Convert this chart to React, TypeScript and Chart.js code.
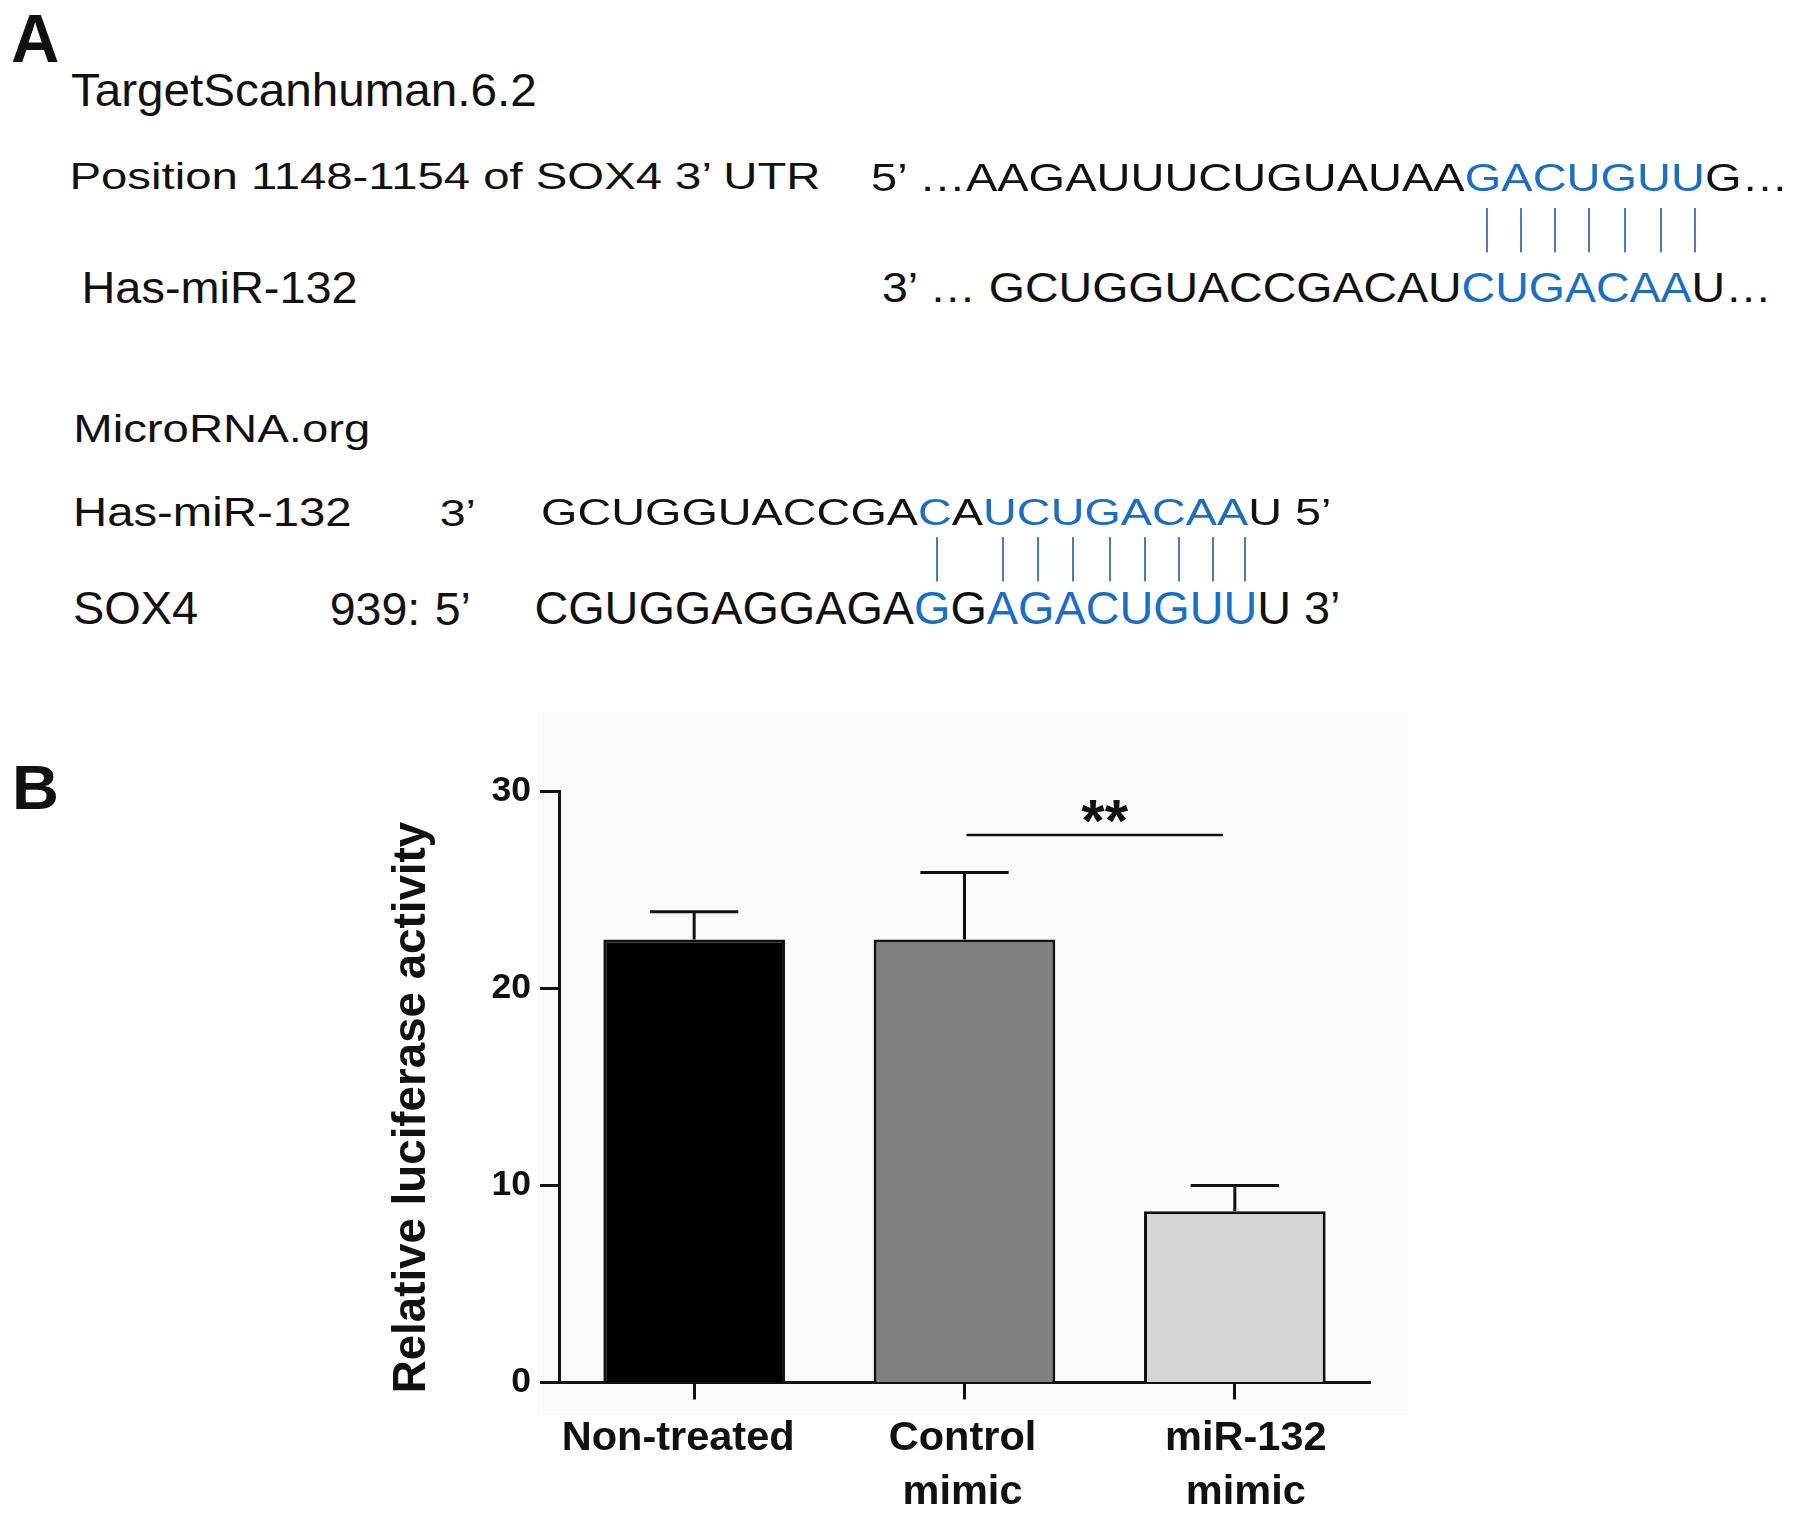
import React, { useEffect, useRef } from "react";
import { Chart, registerables } from "chart.js";

Chart.register(...registerables);

// ---------------- Data (panel B) ----------------
const categories: string[][] = [["Non-treated"], ["Control", "mimic"], ["miR-132", "mimic"]];
const means: number[] = [22.5, 22.5, 8.7];
const errors: number[] = [1.4, 3.4, 1.3];
const barColors: string[] = ["#000000", "#808080", "#d4d4d4"];
const yTickValues: number[] = [0, 10, 20, 30];
const yTitle = "Relative luciferase activity";
const sigPair: number[] = [1, 2];
const sigLevel = 27.8;
const sigLabel = "**";

// ---------------- Text (panel A) ----------------
type Seg = { t: string; c: "k" | "b" | "p" };
const tsHeader = "TargetScanhuman.6.2";
const tsSite = "Position 1148-1154 of SOX4 3’ UTR";
const tsUtr: Seg[] = [
  { t: "5’ …AAGAUUUCUGUAUAA", c: "k" },
  { t: "GACUGUU", c: "p" },
  { t: "G…", c: "k" },
];
const tsMirLabel = "Has-miR-132";
const tsMir: Seg[] = [
  { t: "3’ … GCUGGUACCGACAU", c: "k" },
  { t: "CUGACAA", c: "b" },
  { t: "U…", c: "k" },
];
const mrHeader = "MicroRNA.org";
const mrMirLabel = "Has-miR-132";
const mrMirEnd = "3’";
const mrMir: Seg[] = [
  { t: "GCUGGUACCGA", c: "k" },
  { t: "C", c: "p" },
  { t: "A", c: "k" },
  { t: "UCUGACAA", c: "p" },
  { t: "U 5’", c: "k" },
];
const mrSoxLabel = "SOX4";
const mrSoxPos = "939:";
const mrSoxEnd = "5’";
const mrSox: Seg[] = [
  { t: "CGUGGAGGAGA", c: "k" },
  { t: "G", c: "b" },
  { t: "G", c: "k" },
  { t: "AGACUGUU", c: "b" },
  { t: "U 3’", c: "k" },
];

// ---------------- Styles ----------------
const FONT = '"Liberation Sans", Arial, Helvetica, sans-serif';
const INK = "#111111";
const BLUE = "#1b6ec2";
const PAIR = "#5078bb";
const labelNudge = [-16, -2, 11];

type TxtProps = {
  x: number;
  base: number;
  fx: number;
  cap: number;
  bold?: boolean;
  children: React.ReactNode;
};

function Txt({ x, base, fx, cap, bold, children }: TxtProps) {
  const sy = cap / (0.716 * fx);
  const asc = 0.8465 * fx;
  return (
    <div
      style={{
        position: "absolute",
        left: x,
        top: base - asc,
        fontSize: fx,
        lineHeight: `${fx}px`,
        fontFamily: FONT,
        fontWeight: bold ? 700 : 400,
        whiteSpace: "pre",
        color: INK,
        transform: `scaleY(${sy})`,
        transformOrigin: `0 ${asc}px`,
      }}
    >
      {children}
    </div>
  );
}

function SeqSegs({
  segs,
  fx,
  cap,
  base,
  lineTop,
  lineBottom,
  shift = 0,
  drift = 0,
}: {
  segs: Seg[];
  fx: number;
  cap: number;
  base: number;
  lineTop?: number;
  lineBottom?: number;
  shift?: number;
  drift?: number;
}) {
  const sy = cap / (0.716 * fx);
  let k = 0;
  return (
    <>
      {segs.map((s, i) => {
        if (s.c !== "p" || lineTop === undefined || lineBottom === undefined) {
          return (
            <span key={i} style={{ color: s.c === "k" ? INK : BLUE }}>
              {s.t}
            </span>
          );
        }
        return (
          <span key={i} style={{ color: BLUE }}>
            {Array.from(s.t).map((ch, j) => {
              const off = shift + drift * k;
              k += 1;
              return (
                <span key={j} style={{ position: "relative" }}>
                  {ch}
                  <span
                    style={{
                      position: "absolute",
                      left: "50%",
                      marginLeft: -1 + off,
                      width: 2,
                      top: 0.905 * fx + (lineTop - base) / sy,
                      height: (lineBottom - lineTop) / sy,
                      background: PAIR,
                    }}
                  />
                </span>
              );
            })}
          </span>
        );
      })}
    </>
  );
}

function BarChart() {
  const ref = useRef<HTMLCanvasElement | null>(null);
  useEffect(() => {
    if (!ref.current) return;
    const nudgeLabels = {
      id: "nudgeLabels",
      beforeDraw(chart: any) {
        const xs = chart.scales.x;
        if (!xs || !xs.getLabelItems) return;
        const items = xs.getLabelItems(chart.chartArea);
        if (!items || items.__nudged) return;
        items.forEach((it: any, i: number) => {
          const tr = it.options.translation;
          it.options.translation = [tr[0] + (labelNudge[i] || 0), tr[1]];
        });
        items.__nudged = true;
      },
    };
    const annot = {
      id: "annot",
      afterDatasetsDraw(chart: any) {
        const { ctx, scales } = chart;
        const xs = scales.x;
        const ys = scales.y;
        const meta = chart.getDatasetMeta(0);
        ctx.save();
        ctx.strokeStyle = INK;
        ctx.lineWidth = 3;
        ctx.lineCap = "butt";
        means.forEach((m, i) => {
          const bar = meta.data[i];
          const cx = bar.x;
          const y0 = ys.getPixelForValue(m);
          const y1 = ys.getPixelForValue(m + errors[i]);
          const half = bar.width * 0.243;
          ctx.beginPath();
          ctx.moveTo(cx, y0);
          ctx.lineTo(cx, y1);
          ctx.moveTo(cx - half, y1);
          ctx.lineTo(cx + half, y1);
          ctx.stroke();
        });
        // significance bracket
        const xa = xs.getPixelForValue(sigPair[0]) + 2;
        const xb = xs.getPixelForValue(sigPair[1]) - 12;
        const ly = ys.getPixelForValue(sigLevel);
        ctx.lineWidth = 2.5;
        ctx.beginPath();
        ctx.moveTo(xa, ly);
        ctx.lineTo(xb, ly);
        ctx.stroke();
        ctx.fillStyle = INK;
        ctx.font = `bold 60px ${FONT}`;
        ctx.textAlign = "center";
        ctx.textBaseline = "alphabetic";
        ctx.fillText(sigLabel, (xa + xb) / 2 + 10, ly + 6);
        ctx.restore();
      },
      afterDraw(chart: any) {
        // y-axis title, placed slightly below the axis centre as in the figure
        const { ctx, chartArea } = chart;
        const ys = chart.scales.y;
        ctx.save();
        ctx.font = `bold 45.7px ${FONT}`;
        ctx.fillStyle = INK;
        ctx.textAlign = "center";
        ctx.textBaseline = "middle";
        ctx.translate(ys.left + 32, (chartArea.top + chartArea.bottom) / 2 + 20.5);
        ctx.rotate(-Math.PI / 2);
        ctx.fillText(yTitle, 0, 0);
        ctx.restore();
      },
    };
    const chart = new Chart(ref.current, {
      type: "bar",
      data: {
        labels: categories,
        datasets: [
          {
            data: means,
            backgroundColor: barColors,
            borderColor: INK,
            borderWidth: 3,
            barPercentage: 0.672,
            categoryPercentage: 1,
          },
        ],
      },
      options: {
        responsive: false,
        animation: false,
        layout: { padding: { left: 0, top: 91.7, right: 50, bottom: 0 } },
        plugins: { legend: { display: false }, tooltip: { enabled: false } },
        scales: {
          x: {
            offset: true,
            grid: {
              display: true,
              drawOnChartArea: false,
              drawTicks: true,
              tickLength: 17,
              tickWidth: 3,
              tickColor: INK,
              offset: false,
            },
            border: { display: true, color: INK, width: 3 },
            ticks: {
              color: INK,
              font: { family: FONT, size: 41.5, weight: "bold", lineHeight: 1.31 },
              padding: 12,
              maxRotation: 0,
              autoSkip: false,
            },
            afterFit: (a: any) => {
              a.height = 135.5;
            },
          },
          y: {
            min: 0,
            max: 30,
            afterBuildTicks: (a: any) => {
              a.ticks = yTickValues.map((v) => ({ value: v }));
            },
            ticks: {
              color: INK,
              font: { family: FONT, size: 35.5, weight: "bold" },
              padding: 9,
            },
            grid: {
              drawOnChartArea: false,
              drawTicks: true,
              tickLength: 19,
              tickWidth: 3,
              tickColor: INK,
            },
            border: { display: true, color: INK, width: 3 },
            title: { display: false, text: yTitle },
            afterFit: (a: any) => {
              a.width = 179;
            },
          },
        },
      } as any,
      plugins: [nudgeLabels, annot],
    });
    return () => chart.destroy();
  }, []);
  return (
    <canvas
      ref={ref}
      width={1040}
      height={818}
      style={{ position: "absolute", left: 380, top: 700, width: 1040, height: 818 }}
    />
  );
}

export default function App() {
  return (
    <div
      style={{
        position: "fixed",
        left: 0,
        top: 0,
        width: 1795,
        height: 1518,
        background: "#ffffff",
        overflow: "hidden",
        fontFamily: FONT,
      }}
    >
      {/* Panel A */}
      <Txt x={11} base={62} fx={67} cap={49} bold>
        A
      </Txt>
      <Txt x={71} base={106} fx={47.6} cap={33}>
        {tsHeader}
      </Txt>
      <Txt x={69.5} base={189.3} fx={47.3} cap={26.7}>
        {tsSite}
      </Txt>
      <Txt x={871} base={190.7} fx={47} cap={27.3}>
        <SeqSegs segs={tsUtr} fx={47} cap={27.3} base={190.7} lineTop={208} lineBottom={253} shift={4} drift={0.5} />
      </Txt>
      <Txt x={81.5} base={304} fx={46.9} cap={31.3}>
        {tsMirLabel}
      </Txt>
      <Txt x={882} base={302.7} fx={46.5} cap={31}>
        <SeqSegs segs={tsMir} fx={46.5} cap={31} base={302.7} />
      </Txt>

      <Txt x={73.3} base={441.7} fx={47.3} cap={28.3}>
        {mrHeader}
      </Txt>
      <Txt x={73} base={526} fx={47.3} cap={29.3}>
        {mrMirLabel}
      </Txt>
      <Txt x={439.7} base={526} fx={46.5} cap={26.7}>
        {mrMirEnd}
      </Txt>
      <Txt x={541} base={526} fx={46.8} cap={26.7}>
        <SeqSegs segs={mrMir} fx={46.8} cap={26.7} base={526} lineTop={538} lineBottom={582} shift={2} drift={1.3} />
      </Txt>
      <Txt x={73} base={625} fx={46.9} cap={33.3}>
        {mrSoxLabel}
      </Txt>
      <Txt x={329.7} base={625} fx={46.5} cap={33.3}>
        {mrSoxPos}
      </Txt>
      <Txt x={434.7} base={625} fx={46.5} cap={33.3}>
        {mrSoxEnd}
      </Txt>
      <Txt x={534.4} base={625} fx={46.8} cap={32.7}>
        <SeqSegs segs={mrSox} fx={46.8} cap={32.7} base={625} />
      </Txt>

      {/* Panel B */}
      <Txt x={12} base={809} fx={65} cap={45} bold>
        B
      </Txt>
      <div
        style={{
          position: "absolute",
          left: 537,
          top: 712,
          width: 871,
          height: 703,
          background: "#fbfbfb",
        }}
      />
      <BarChart />
    </div>
  );
}
